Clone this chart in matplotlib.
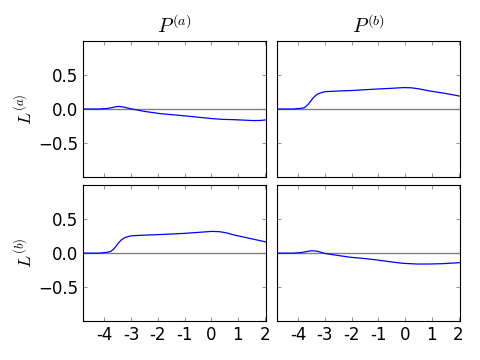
import numpy as np
import matplotlib
matplotlib.use("Agg")
from matplotlib import pyplot as plt

plt.rcParams['mathtext.fontset'] = 'cm'
plt.rcParams['xtick.direction'] = 'in'
plt.rcParams['ytick.direction'] = 'in'
plt.rcParams['xtick.top'] = True
plt.rcParams['ytick.right'] = True

# curves, x positions and values
x_aa = [-4.8, -4.2, -3.9, -3.7, -3.55, -3.45, -3.3, -3.1, -2.9, -2.5, -1.9, -1.0, -0.5, 0.0, 0.4, 0.8, 1.2, 1.6, 1.85, 2.05]
y_aa = [0.0, 0.0, 0.008, 0.022, 0.035, 0.038, 0.03, 0.012, -0.005, -0.035, -0.068, -0.10, -0.12, -0.14, -0.152, -0.156, -0.163, -0.17, -0.168, -0.16]

x_ab = [-4.8, -4.2, -3.9, -3.77, -3.65, -3.55, -3.45, -3.35, -3.25, -3.1, -3.0, -2.5, -2.0, -1.45, -1.0, -0.5, -0.07, 0.2, 0.5, 0.93, 1.5, 2.05]
y_ab = [0.0, 0.0, 0.01, 0.02, 0.06, 0.11, 0.16, 0.2, 0.225, 0.245, 0.255, 0.265, 0.272, 0.285, 0.295, 0.305, 0.315, 0.313, 0.298, 0.265, 0.23, 0.19]

x_ba = [-4.8, -4.2, -3.9, -3.77, -3.65, -3.55, -3.45, -3.35, -3.25, -3.1, -3.0, -2.5, -2.0, -1.04, -0.5, 0.02, 0.3, 0.55, 0.83, 1.4, 2.05]
y_ba = [0.0, 0.0, 0.012, 0.024, 0.06, 0.11, 0.16, 0.2, 0.225, 0.245, 0.255, 0.265, 0.272, 0.29, 0.305, 0.32, 0.316, 0.3, 0.27, 0.22, 0.165]

x_bb = [-4.8, -4.2, -3.9, -3.7, -3.55, -3.45, -3.3, -3.1, -3.0, -2.5, -2.06, -1.5, -1.06, -0.5, -0.07, 0.43, 0.9, 1.4, 2.05]
y_bb = [0.0, 0.0, 0.008, 0.022, 0.033, 0.035, 0.028, 0.008, -0.005, -0.035, -0.06, -0.08, -0.10, -0.13, -0.15, -0.16, -0.16, -0.155, -0.14]

xticks = [-4, -3, -2, -1, 0, 1, 2]
xticklabels = ['-4', '-3', '-2', '-1', '0', '1', '2']
yticks = [-0.5, 0.0, 0.5]
col_titles = [r'$P^{(a)}$', r'$P^{(b)}$']
row_labels = [r'$L^{(a)}$', r'$L^{(b)}$']

curves = [[(x_aa, y_aa), (x_ab, y_ab)],
          [(x_ba, y_ba), (x_bb, y_bb)]]

fig, axes = plt.subplots(2, 2, figsize=(4.8, 3.6), dpi=100)
fig.subplots_adjust(left=0.173, right=0.958, top=0.886, bottom=0.108,
                    wspace=0.06, hspace=0.06)

for i in range(2):
    for j in range(2):
        ax = axes[i, j]
        xs, ys = curves[i][j]
        ax.axhline(0, color='gray', lw=1)
        ax.plot(xs, ys, color='blue', lw=0.9)
        ax.set_xlim(-4.8, 2.05)
        ax.set_ylim(-1, 1)
        ax.set_xticks(xticks)
        ax.set_yticks(yticks)
        ax.tick_params(length=3, color='0.6', labelsize=12)
        if i == 1:
            ax.set_xticklabels(xticklabels)
        else:
            ax.set_xticklabels([])
        if j == 0:
            ax.set_ylabel(row_labels[i], fontsize=13, labelpad=2)
        else:
            ax.set_yticklabels([])
        if i == 0:
            ax.set_title(col_titles[j], fontsize=14.5)

plt.savefig("out.png")
